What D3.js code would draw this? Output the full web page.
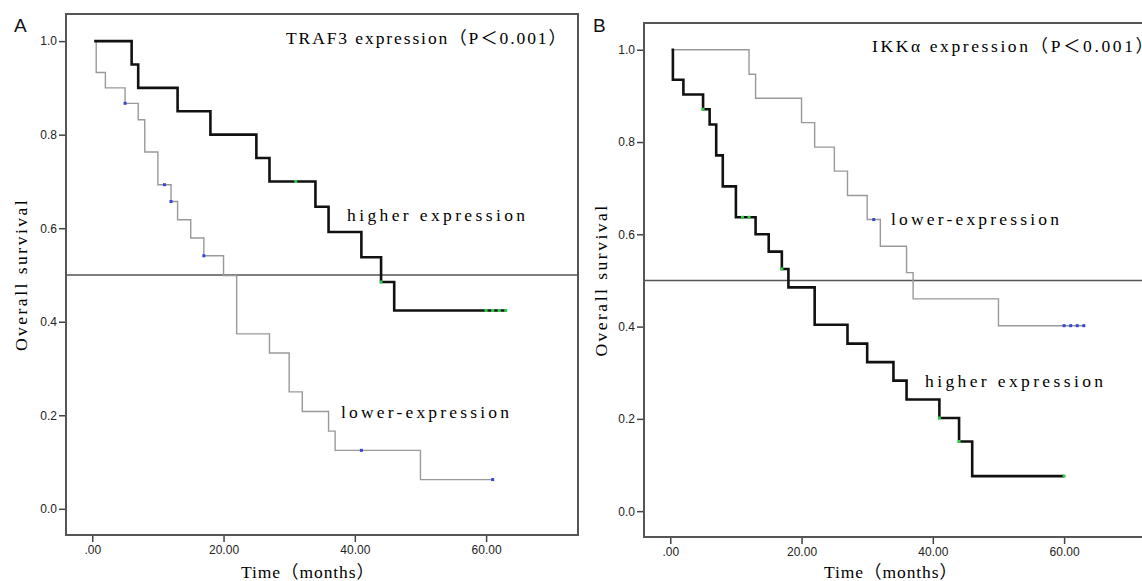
<!DOCTYPE html>
<html>
<head>
<meta charset="utf-8">
<script src="https://cdn.jsdelivr.net/npm/d3@7"></script>
<style>
  body { margin: 0; background: #fff; }
  svg { display: block; }
</style>
</head>
<body>
<div id="chart"></div>
<script>
// Panel A: TRAF3
const aHighTimes = [0.3, 6, 7, 13, 18, 25, 27, 34, 36, 41, 44, 46, 63];
const aHighSurv = [1, 0.95, 0.90, 0.85, 0.80, 0.75, 0.70, 0.646, 0.592, 0.538, 0.485, 0.424, 0.424];
const aHighCensor = [31, 44, 60, 61, 62, 63];

const aLowTimes = [0.3, 0.6, 2, 5, 7, 8, 10, 12, 13, 15, 17, 20, 22, 27, 30, 32, 36, 37, 50, 61];
const aLowSurv = [1, 0.933, 0.9, 0.867, 0.832, 0.763, 0.693, 0.657, 0.618, 0.579, 0.541, 0.499, 0.374, 0.333, 0.25, 0.208, 0.166, 0.125, 0.0625, 0.0625];
const aLowCensor = [5, 11, 12, 17, 41, 61];

// Panel B: IKKα
const bHighTimes = [0.2, 0.4, 2, 5, 6, 7, 8, 10, 13, 15, 17, 18, 22, 27, 30, 34, 36, 41, 44, 46, 60];
const bHighSurv = [1, 0.935, 0.903, 0.871, 0.838, 0.771, 0.704, 0.637, 0.600, 0.5625, 0.525, 0.485, 0.404, 0.363, 0.323, 0.283, 0.242, 0.202, 0.151, 0.076, 0.076];
const bHighCensor = [5, 11, 12, 17, 41, 44, 60];

const bLowTimes = [0.2, 12, 13, 20, 22, 25, 27, 30, 32, 36, 37, 50, 63];
const bLowSurv = [1, 0.947, 0.895, 0.842, 0.789, 0.737, 0.684, 0.632, 0.574, 0.517, 0.46, 0.402, 0.402];
const bLowCensor = [31, 60, 61, 62, 63];

const xTicks = [0, 20, 40, 60];
const yTicks = [0, 0.2, 0.4, 0.6, 0.8, 1.0];
const xDomain = [-4, 74];
const yDomain = [-0.056, 1.058];

const W = 1142, H = 581;
const monoFont = "'Liberation Serif', 'Noto Sans CJK SC', serif";

const svg = d3.select("#chart")
  .append("svg")
  .attr("width", W)
  .attr("height", H);

const panels = [
  {
    letter: "A", letterX: 14,
    box: { left: 66, right: 578, top: 14, bottom: 535 },
    title: "TRAF3 expression（P＜0.001）", titleX: 286, titleY: 44, titleW: 280,
    series: [
      { times: aLowTimes, surv: aLowSurv, censor: aLowCensor, high: false },
      { times: aHighTimes, surv: aHighSurv, censor: aHighCensor, high: true }
    ],
    labels: [
      { text: "higher expression", x: 347, y: 221, w: 178 },
      { text: "lower-expression", x: 341, y: 418, w: 168 }
    ],
    yTitleX: 27, xTitleX: 241, xTitleW: 133
  },
  {
    letter: "B", letterX: 593,
    box: { left: 644, right: 1156, top: 23, bottom: 537 },
    title: "IKKα expression（P＜0.001）", titleX: 872, titleY: 52, titleW: 281,
    series: [
      { times: bLowTimes, surv: bLowSurv, censor: bLowCensor, high: false },
      { times: bHighTimes, surv: bHighSurv, censor: bHighCensor, high: true }
    ],
    labels: [
      { text: "lower-expression", x: 891, y: 225, w: 168 },
      { text: "higher expression", x: 925, y: 387, w: 178 }
    ],
    yTitleX: 607, xTitleX: 824, xTitleW: 133
  }
];

panels.forEach(p => {
  const b = p.box;
  const x = d3.scaleLinear().domain(xDomain).range([b.left, b.right]);
  const y = d3.scaleLinear().domain(yDomain).range([b.bottom, b.top]);
  const g = svg.append("g");

  // axes
  const yAxis = g.append("g")
    .attr("transform", `translate(${b.left},0)`)
    .call(d3.axisLeft(y).tickValues(yTicks).tickSize(7).tickPadding(2).tickFormat(d3.format(".1f")));
  const xAxis = g.append("g")
    .attr("transform", `translate(0,${b.bottom})`)
    .call(d3.axisBottom(x).tickValues(xTicks).tickSize(7).tickPadding(3)
      .tickFormat(d => d === 0 ? ".00" : d3.format(".2f")(d)));
  [yAxis, xAxis].forEach(a => {
    a.select(".domain").remove();
    a.selectAll(".tick line").attr("stroke", "#444").attr("stroke-width", 1.5);
    a.selectAll(".tick text")
      .attr("fill", "#222")
      .style("font-family", "'Liberation Sans', Arial, sans-serif")
      .style("font-size", "12px");
  });

  // frame
  g.append("rect")
    .attr("x", b.left).attr("y", b.top)
    .attr("width", b.right - b.left).attr("height", b.bottom - b.top)
    .attr("fill", "none").attr("stroke", "#555").attr("stroke-width", 2);

  // median reference line
  g.append("line")
    .attr("x1", b.left).attr("x2", b.right)
    .attr("y1", y(0.5)).attr("y2", y(0.5))
    .attr("stroke", "#555").attr("stroke-width", 1.5);

  const line = d3.line()
    .x(d => x(d[0]))
    .y(d => y(d[1]))
    .curve(d3.curveStepAfter);

  p.series.forEach(s => {
    const pts = s.times.map((t, i) => [t, s.surv[i]]);
    g.append("path")
      .attr("d", line(pts))
      .attr("fill", "none")
      .attr("stroke", s.high ? "#111" : "#999")
      .attr("stroke-width", s.high ? 2.6 : 1.4);

    g.selectAll(null)
      .data(s.censor)
      .join("rect")
      .attr("x", c => x(c) - 1.5)
      .attr("y", c => y(s.surv[d3.bisectRight(s.times, c) - 1]) - 1.5)
      .attr("width", 3)
      .attr("height", 3)
      .attr("fill", s.high ? "#2fd04a" : "#3546d6");
  });

  // annotations
  p.labels.forEach(l => {
    g.append("text")
      .attr("x", l.x).attr("y", l.y)
      .attr("textLength", l.w).attr("lengthAdjust", "spacing")
      .style("font-family", monoFont)
      .style("font-size", "17.5px")
      .attr("fill", "#000")
      .text(l.text);
  });

  g.append("text")
    .attr("x", p.titleX).attr("y", p.titleY)
    .attr("textLength", p.titleW).attr("lengthAdjust", "spacing")
    .style("font-family", monoFont)
    .style("font-size", "17.5px")
    .attr("fill", "#000")
    .text(p.title);

  g.append("text")
    .attr("x", p.xTitleX).attr("y", 578)
    .attr("textLength", p.xTitleW).attr("lengthAdjust", "spacing")
    .style("font-family", monoFont)
    .style("font-size", "17.5px")
    .attr("fill", "#000")
    .text("Time（months）");

  g.append("text")
    .attr("transform", `translate(${p.yTitleX},${(b.top + b.bottom) / 2}) rotate(-90)`)
    .attr("text-anchor", "middle")
    .style("font-family", monoFont)
    .style("font-size", "17.5px")
    .style("letter-spacing", "2.5px")
    .attr("fill", "#000")
    .text("Overall survival");

  svg.append("text")
    .attr("x", p.letterX).attr("y", 32)
    .style("font-family", "'Liberation Sans', Arial, sans-serif")
    .style("font-size", "19px")
    .attr("fill", "#111")
    .text(p.letter);
});
</script>
</body>
</html>
